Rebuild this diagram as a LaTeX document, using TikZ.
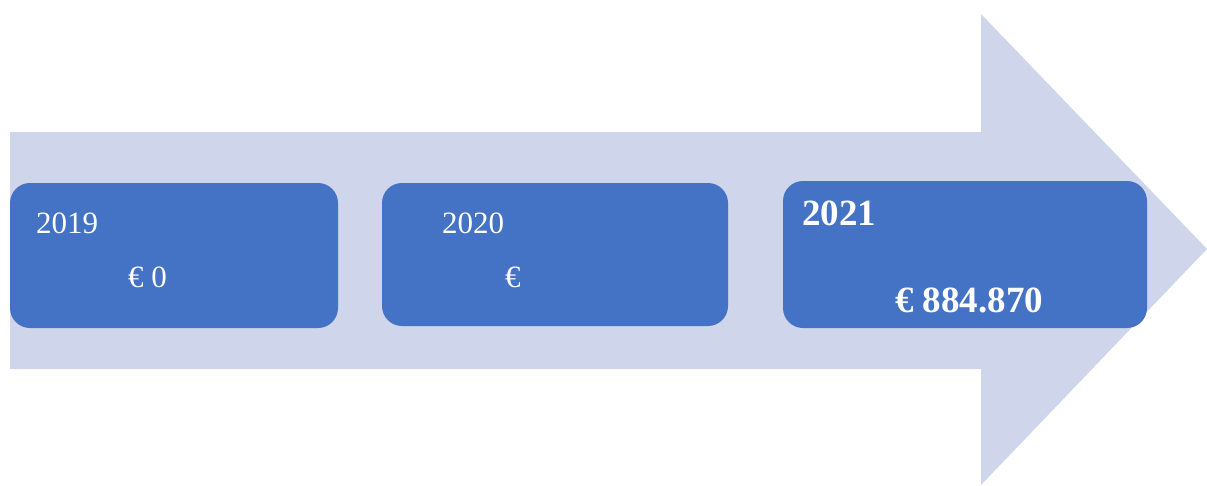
\documentclass[tikz,border=0pt]{standalone}
\usepackage{fontspec}
\setmainfont{Liberation Serif}
\definecolor{shaftblue}{RGB}{207,213,234}
\definecolor{boxblue}{RGB}{68,114,196}
\tikzset{
	yearbox/.style={fill=boxblue,rounded corners=20pt,inner sep=0pt},
	boxtext/.style={text=white,anchor=base west,inner sep=0pt,font=\fontsize{31}{31}\selectfont},
	bigtext/.style={boxtext,font=\bfseries\fontsize{37}{37}\selectfont}
}
\begin{document}
\begin{tikzpicture}[x=1pt,y=-1pt]
		\useasboundingbox (0,0) rectangle (1207,485);
		\fill[color=shaftblue]
			(10,132) -- (981,132) -- (981,14) -- (1207,249)
			-- (981,485) -- (981,369) -- (10,369) -- cycle;
		\node[yearbox,minimum width=328pt,minimum height=145pt] (box19) at (174,255.5) {};
		\node[yearbox,minimum width=346pt,minimum height=143pt] (box20) at (555,254.5) {};
		\node[yearbox,minimum width=364pt,minimum height=147pt] (box21) at (965,254.5) {};
		\node[boxtext] (year19) at (36,233) {2019};
		\node[boxtext] (sum19) at (128,287) {€ 0};
		\node[boxtext] (year20) at (442,233) {2020};
		\node[boxtext] (sum20) at (505,287) {€};
		\node[bigtext] (year21) at (802,225) {2021};
		\node[bigtext] (sum21) at (895,312) {€ 884.870};
	\end{tikzpicture}
\end{document}
